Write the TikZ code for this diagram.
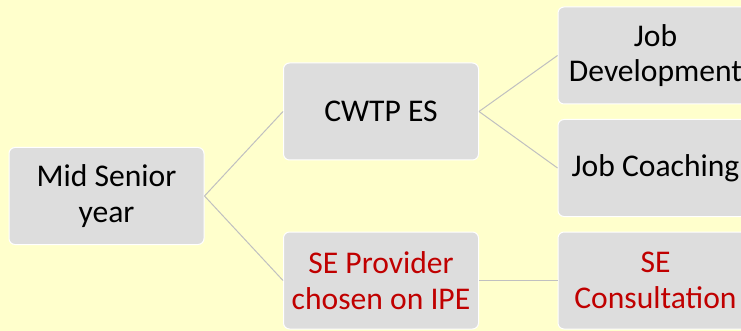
\documentclass[tikz,border=0pt]{standalone}
\usepackage{fontspec}
\setmainfont{Carlito}
\definecolor{bgyellow}{HTML}{FFFFCC}
\definecolor{boxgray}{HTML}{DDDDDD}
\definecolor{linegray}{HTML}{C0C0C0}
\definecolor{darkred}{HTML}{C00000}
\begin{document}
\begin{tikzpicture}[x=0.75pt,y=-0.75pt,
  box/.style={rectangle, rounded corners=4.5pt, fill=boxgray, draw=white, line width=0.75pt,
    minimum width=146.25pt, minimum height=72.75pt, align=center, inner sep=0pt,
    font=\fontsize{23.7}{26.5}\selectfont, text=black},
  redtext/.style={text=darkred},
  conn/.style={draw=linegray, line width=0.75pt}]
\useasboundingbox (0,0) rectangle (741,331);
\clip (0,0) rectangle (741,331);
\fill[bgyellow] (0,0) rectangle (741,331);
\node[box] (mid) at (106.5,196) {Mid Senior\\year};
\node[box] (cwtp) at (381,111.5) {CWTP ES};
\node[box, redtext] (sep) at (381,280.5) {SE Provider\\chosen on IPE};
\node[box] (jd) at (655.5,55.5) {Job\\Development};
\node[box] (jc) at (655.5,168) {Job Coaching};
\node[box, redtext] (sec) at (655.5,280.5) {SE\\Consultation};
\draw[conn] (mid.east) -- (cwtp.west);
\draw[conn] (mid.east) -- (sep.west);
\draw[conn] (cwtp.east) -- (jd.west);
\draw[conn] (cwtp.east) -- (jc.west);
\draw[conn] (sep.east) -- (sec.west);
\end{tikzpicture}
\end{document}
